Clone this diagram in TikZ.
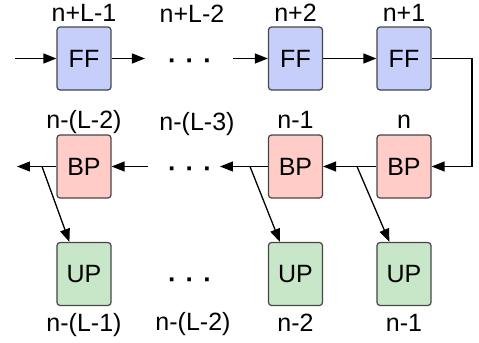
\documentclass[tikz,border=0pt]{standalone}
\usepackage{fontspec}
\setmainfont{Liberation Sans}
\usepackage{tikz}
\usetikzlibrary{positioning, calc, arrows.meta}
\definecolor{ffblue}{RGB}{198,207,250}
\definecolor{bpred}{RGB}{255,204,200}
\definecolor{upgreen}{RGB}{200,230,200}
\definecolor{edgegray}{RGB}{70,70,70}
\tikzset{
    %Define style for boxes
    stagebox/.style={
           rectangle,
           rounded corners=1.5pt,
           draw=edgegray, line width=0.6pt,
           minimum width=27pt,
           minimum height=31.5pt,
           inner sep=0pt,
           font=\fontsize{12.5}{14}\selectfont},
 %
    ffbox/.style={stagebox, fill=ffblue},
    bpbox/.style={stagebox, fill=bpred},
    upbox/.style={stagebox, fill=upgreen},
 %
    lbl/.style={inner sep=0pt, font=\fontsize{12.5}{14}\selectfont},
    dots/.style={inner sep=0pt, anchor=mid, yshift=-3pt, font=\fontsize{13}{14}\selectfont\bfseries},
%
    % Define arrow style
    arrow/.style={
           -{Triangle[length=6.5pt,width=5pt]},
           line width=0.65pt}
}
\begin{document}
\begin{tikzpicture}[x=0.5pt, y=-0.5pt]
  \useasboundingbox (0,0) rectangle (479,343);

  % forward row
  \node[ffbox] (ff1) at (84,58.5) {FF};
  \node[dots] (fdots) at (190,58.5) {·\hspace{4.5pt}·\hspace{4.5pt}·};
  \node[ffbox] (ff3) at (295.5,58.5) {FF};
  \node[ffbox] (ff4) at (404,58.5) {FF};

  % backward row
  \node[bpbox] (bp1) at (84,166.5) {BP};
  \node[dots] (bdots) at (190,166.5) {·\hspace{4.5pt}·\hspace{4.5pt}·};
  \node[bpbox] (bp3) at (295.5,166.5) {BP};
  \node[bpbox] (bp4) at (404,166.5) {BP};

  % update row
  \node[upbox] (up1) at (84,274) {UP};
  \node[dots] (udots) at (190,277) {·\hspace{4.5pt}·\hspace{4.5pt}·};
  \node[upbox] (up3) at (295.5,274) {UP};
  \node[upbox] (up4) at (404,274) {UP};

  % labels
  \node[lbl, above=2.5pt of ff1, anchor=base] (tff1) {n+L-1};
  \node[lbl, anchor=base] (tff2) at (192,22) {n+L-2};
  \node[lbl, above=2.5pt of ff3, anchor=base] (tff3) {n+2};
  \node[lbl, above=2.5pt of ff4, anchor=base] (tff4) {n+1};

  \node[lbl, above=3pt of bp1, anchor=base] (tbp1) {n-(L-2)};
  \node[lbl, anchor=base] (tbp2) at (197,130) {n-(L-3)};
  \node[lbl, above=3pt of bp3, anchor=base] (tbp3) {n-1};
  \node[lbl, above=3pt of bp4, anchor=base] (tbp4) {n};

  \node[lbl, below=12.5pt of up1, anchor=base] (tup1) {n-(L-1)};
  \node[lbl, anchor=base] (tup2) at (193,330) {n-(L-2)};
  \node[lbl, below=12.5pt of up3, anchor=base] (tup3) {n-2};
  \node[lbl, below=12.5pt of up4, anchor=base] (tup4) {n-1};

  % loose ends and branch points
  \coordinate (in) at (15,58.5);
  \coordinate (f1end) at (145,58.5);
  \coordinate (f2start) at (233,58.5);
  \coordinate (turn) at (472,166.5);
  \coordinate (br4) at (357,166.5);
  \coordinate (br3) at (250,166.5);
  \coordinate (b3end) at (220,166.5);
  \coordinate (b2start) at (148,166.5);
  \coordinate (br1) at (42,166.5);
  \coordinate (out) at (17,166.5);

  \draw[arrow] (in) -- (ff1.west);
  \draw[arrow] (ff1.east) -- (f1end);
  \draw[arrow] (f2start) -- (ff3.west);
  \draw[arrow] (ff3.east) -- (ff4.west);
  \draw[arrow] (ff4.east) -| (turn) -- (bp4.east);

  \draw[arrow] (bp4.west) -- (bp3.east);
  \draw[arrow] (bp3.west) -- (b3end);
  \draw[arrow] (b2start) -- (bp1.east);
  \draw[arrow] (bp1.west) -- (out);

  \draw[arrow] (br4) -- ([xshift=6.5pt]up4.north west);
  \draw[arrow] (br3) -- ([xshift=6pt]up3.north west);
  \draw[arrow] (br1) -- ([xshift=6.5pt]up1.north west);
\end{tikzpicture}
\end{document}
